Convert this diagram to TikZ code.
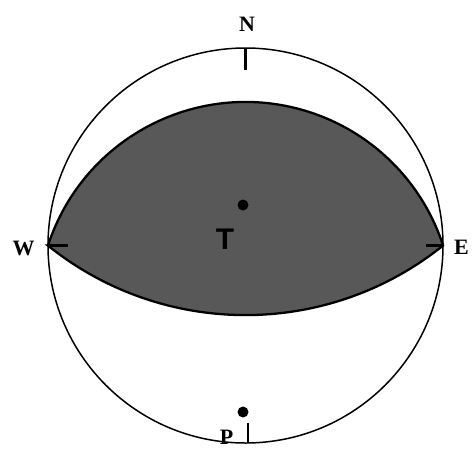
\documentclass[tikz,border=0pt]{standalone}
\usepackage{fontspec}
\setmainfont{Liberation Serif}
\setsansfont{Liberation Sans}
\definecolor{planegray}{RGB}{88,88,88}
\begin{document}
\begin{tikzpicture}[x=0.02cm,y=0.02cm,
	rim/.style={line width=0.85pt},
	polemark/.style={line width=1.7pt},
	dirlabel/.style={font=\fontsize{12.5}{14}\selectfont\bfseries},
	pt/.style={circle,fill=black,inner sep=0pt,minimum size=11*0.02cm}]
	\useasboundingbox (-245.5,-211.5) rectangle (226.5,245.5);
	% centre and cardinal points on the rim
	\coordinate (O) at (0,0);
	\coordinate (W) at (-197.5,0);
	\coordinate (E) at (197.5,0);
	\coordinate (N) at (0,197.5);
	\coordinate (S) at (2.5,-197.5);
	% shaded region between the two great circles
	\fill[planegray,draw=black,line width=1.3pt] (W) arc[start angle=162,end angle=18,radius=207.7]
		arc[start angle=-51.2,end angle=-128.8,radius=315.4] -- cycle;
	\draw[rim] (O) circle[radius=197.5];
	% ticks
	\coordinate (Nin) at (0,175.5);
	\coordinate (Win) at (-177.5,0);
	\coordinate (Ein) at (180,0);
	\coordinate (Sin) at (2.5,-177.5);
	\draw[polemark] (N) -- (Nin);
	\draw[polemark] (W) -- (Win);
	\draw[polemark] (E) -- (Ein);
	\draw[polemark] (S) -- (Sin);
	% labels
	\node[dirlabel] (lblN) at (1.5,221.5) {N};
	\node[dirlabel] (lblW) at (-222,-2.5) {W};
	\node[dirlabel] (lblE) at (216,-2) {E};
	\node[dirlabel] (lblP) at (-19,-192) {P};
	% points
	\node[pt] (ptT) at (-2.5,40.5) {};
	\node[font=\fontsize{17}{20}\selectfont\sffamily\bfseries] (lblT) at (-20.5,6.5) {T};
	\node[pt] (ptP) at (-2.5,-166.5) {};
\end{tikzpicture}
\end{document}
